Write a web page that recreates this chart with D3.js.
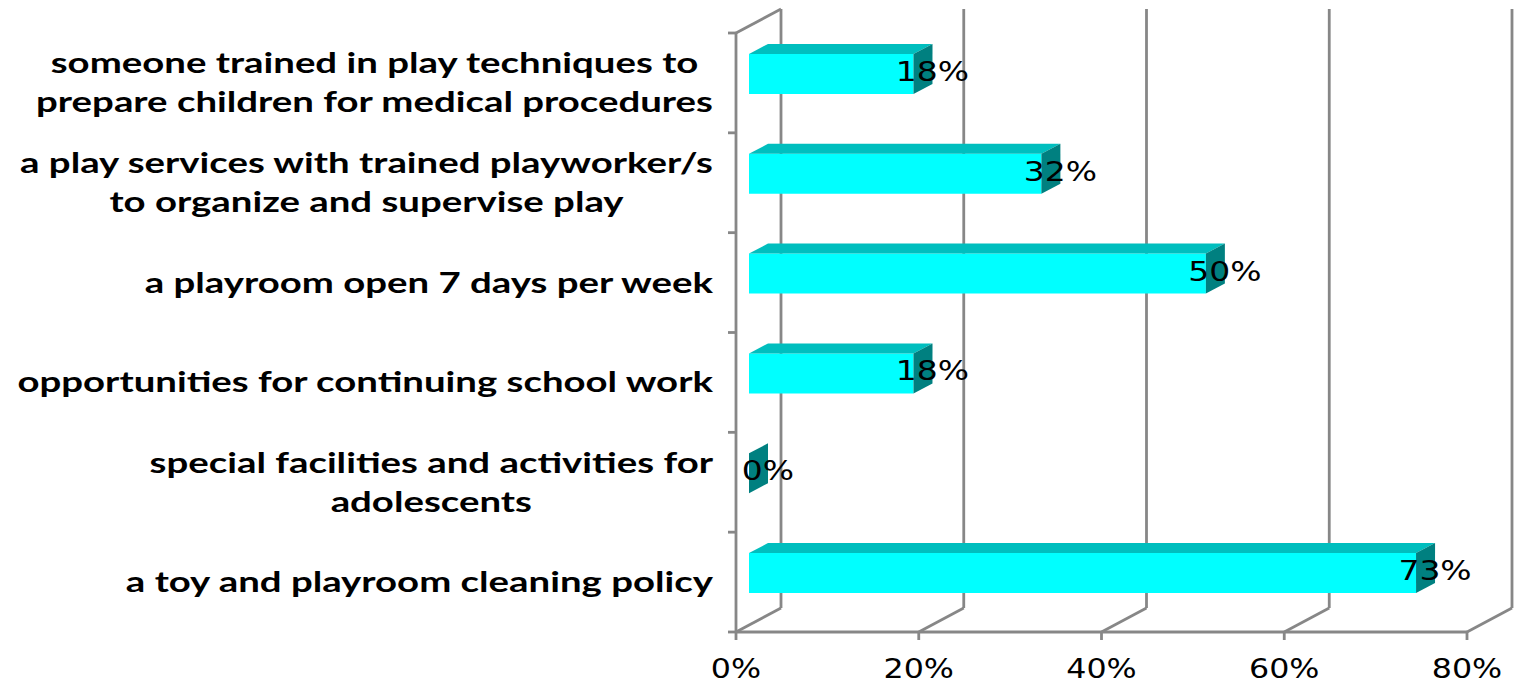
<!DOCTYPE html>
<html><head><meta charset="utf-8">
<script src="https://cdn.jsdelivr.net/npm/d3@7"></script>
<style>html,body{margin:0;padding:0;background:#fff;}svg{display:block;}</style>
</head><body>
<svg id="chart" width="1521" height="683"></svg>
<script>
const categories = [
  ["someone trained in play techniques to", "prepare children for medical procedures"],
  ["a play services with trained playworker/s", "to organize and supervise play"],
  ["a playroom open 7 days per week"],
  ["opportunities for continuing school work"],
  ["special facilities and activities for", "adolescents"],
  ["a toy and playroom cleaning policy"]
];
const values = [18, 32, 50, 18, 0, 73];
const tickValues = [0, 20, 40, 60, 80];
const tickLabels = ["0%", "20%", "40%", "60%", "80%"];

const svg = d3.select("#chart");
const x = d3.scaleLinear().domain([0, 80]).range([736, 1467]);
const keys = categories.map((c, i) => i);
const y = d3.scaleBand().domain(keys).range([33, 632]).paddingInner(0).paddingOuter(0);

const DX = 45, DY = -24;            // full depth offset
const BX = 13, BY = -9;             // bar front face depth offset
const bdx = 19, bdy = -10;          // bar depth
const gridColor = "#878787";
const gw = 2.8;
const numScale = 1.22, catScale = 1.37;

const g = svg.append("g");
const yTop = y.range()[0], yBot = y.range()[1];

g.selectAll("line.grid").data(tickValues).join("line")
  .attr("x1", d => x(d) + DX).attr("x2", d => x(d) + DX)
  .attr("y1", yBot + DY).attr("y2", yTop + DY)
  .attr("stroke", gridColor).attr("stroke-width", gw);
g.selectAll("line.floor").data(tickValues).join("line")
  .attr("x1", d => x(d)).attr("x2", d => x(d) + DX)
  .attr("y1", yBot).attr("y2", yBot + DY)
  .attr("stroke", gridColor).attr("stroke-width", gw);
g.append("line").attr("x1", x(0)).attr("x2", x(80)).attr("y1", yBot).attr("y2", yBot)
  .attr("stroke", gridColor).attr("stroke-width", gw);
g.append("line").attr("x1", x(0)).attr("x2", x(0)).attr("y1", yTop).attr("y2", yBot)
  .attr("stroke", gridColor).attr("stroke-width", gw);
g.append("line").attr("x1", x(0)).attr("x2", x(0) + DX).attr("y1", yTop).attr("y2", yTop + DY)
  .attr("stroke", gridColor).attr("stroke-width", gw);
const bounds = keys.map(k => y(k)).concat([yBot]);
g.selectAll("line.ytick").data(bounds).join("line")
  .attr("x1", x(0) - 8).attr("x2", x(0)).attr("y1", d => d).attr("y2", d => d)
  .attr("stroke", gridColor).attr("stroke-width", gw);
g.selectAll("line.xtick").data(tickValues).join("line")
  .attr("x1", d => x(d)).attr("x2", d => x(d)).attr("y1", yBot).attr("y2", yBot + 8)
  .attr("stroke", gridColor).attr("stroke-width", gw);

g.selectAll("text.xl").data(tickValues).join("text")
  .attr("transform", d => `translate(${x(d)},678) scale(${numScale},1)`)
  .attr("text-anchor", "middle")
  .attr("font-family", "DejaVu Sans").attr("font-size", 26)
  .attr("fill", "#000")
  .text((d, i) => tickLabels[i]);

const bh = y.bandwidth() * 0.4;
const bars = g.selectAll("g.bar").data(values).join("g");
bars.each(function(v, i) {
  const sel = d3.select(this);
  const x0 = x(0) + BX, x1 = x(v) + BX;
  const cy = y(i) + y.bandwidth() / 2 + BY;
  const y0 = cy - bh / 2, y1 = cy + bh / 2;
  if (v > 0) {
    sel.append("path").attr("d", `M${x0},${y0}L${x1},${y0}L${x1},${y1}L${x0},${y1}Z`).attr("fill", "#00ffff");
    sel.append("path").attr("d", `M${x0},${y0}L${x0 + bdx},${y0 + bdy}L${x1 + bdx},${y0 + bdy}L${x1},${y0}Z`).attr("fill", "#00bebe");
  }
  sel.append("path").attr("d", `M${x1},${y0}L${x1 + bdx},${y0 + bdy}L${x1 + bdx},${y1 + bdy}L${x1},${y1}Z`).attr("fill", "#008080");
  sel.append("text")
    .attr("transform", `translate(${x1 + bdx},${cy + 7}) scale(${numScale},1)`)
    .attr("text-anchor", "middle")
    .attr("font-family", "DejaVu Sans").attr("font-size", 27)
    .attr("fill", "#000")
    .text(d3.format(".0f")(v) + "%");
});

const right = 713, lh = 39;
categories.forEach((lines, i) => {
  const cy = y(i) + y.bandwidth() / 2;
  const grp = g.append("g");
  const texts = lines.map((t, j) => grp.append("text")
    .attr("font-family", "Lato").attr("font-weight", "bold").attr("font-size", 28)
    .attr("fill", "#000").attr("text-anchor", "middle")
    .text(t));
  const maxW = d3.max(texts, t => t.node().getComputedTextLength()) * catScale;
  texts.forEach((t, j) => t.attr("transform",
    `translate(${right - maxW / 2},${cy + (j - (lines.length - 1) / 2) * lh + 10}) scale(${catScale},1)`));
});
</script>
</body></html>
